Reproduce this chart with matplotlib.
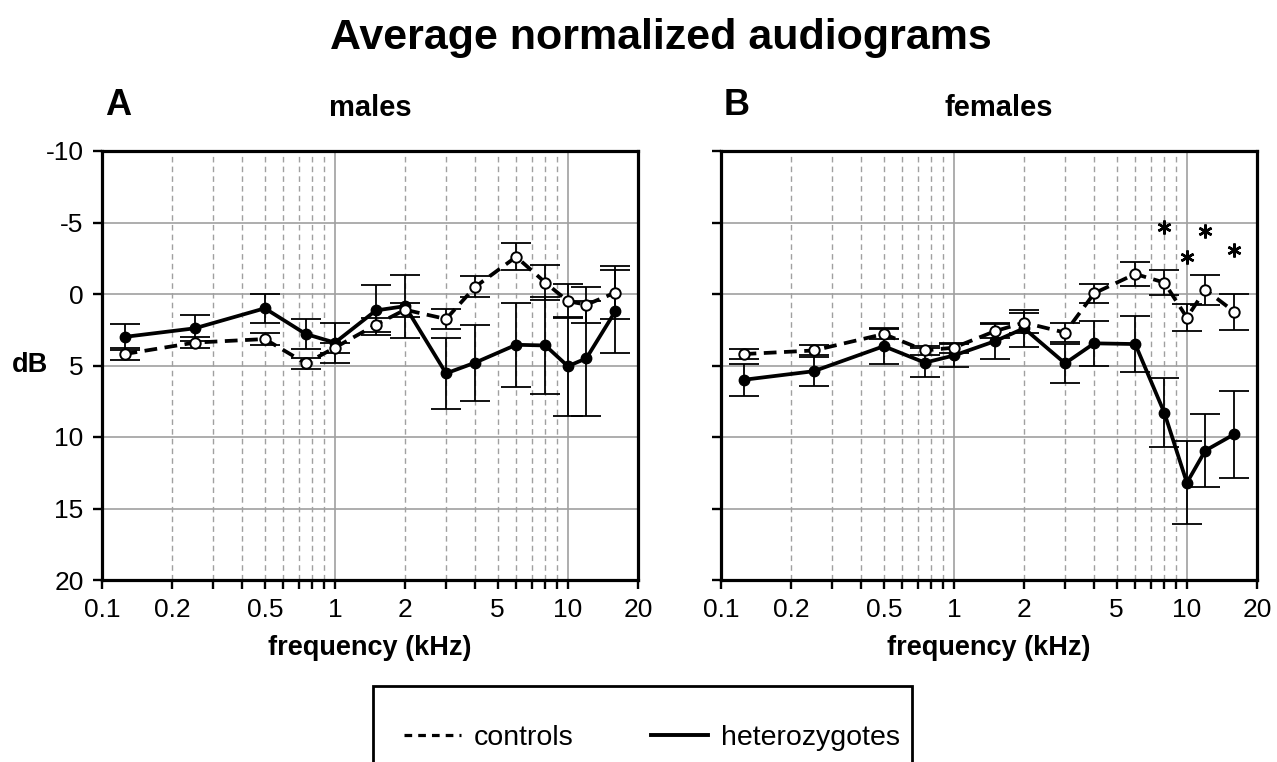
import numpy as np
import matplotlib.pyplot as plt
from matplotlib.ticker import FixedLocator, FixedFormatter, NullFormatter
from matplotlib.lines import Line2D
from matplotlib.patches import Rectangle

plt.rcParams['font.family'] = ['Liberation Sans', 'DejaVu Sans']
plt.rcParams['axes.unicode_minus'] = False

# frequencies (kHz)
freqs = [0.125, 0.25, 0.5, 0.75, 1, 1.5, 2, 3, 4, 6, 8, 10, 12, 16]

# males
male_het = [3.0, 2.4, 1.0, 2.8, 3.4, 1.15, 0.85, 5.55, 4.8, 3.55, 3.6, 5.05, 4.5, 1.2]
male_het_err = [0.9, 0.9, 1.0, 1.05, 1.4, 1.75, 2.2, 2.5, 2.65, 2.95, 3.4, 3.45, 4.0, 2.9]
male_ctl = [4.2, 3.4, 3.15, 4.85, 3.75, 2.15, 1.1, 1.75, -0.5, -2.6, -0.8, 0.5, 0.75, -0.1]
male_ctl_err = [0.4, 0.38, 0.42, 0.38, 0.35, 0.5, 0.5, 0.72, 0.73, 0.94, 1.2, 1.2, 1.25, 1.85]

# females
female_het = [6.0, 5.4, 3.65, 4.8, 4.3, 3.3, 2.4, 4.85, 3.45, 3.5, 8.3, 13.2, 10.95, 9.8]
female_het_err = [1.1, 1.0, 1.27, 1.0, 0.8, 1.25, 1.3, 1.35, 1.57, 1.95, 2.4, 2.9, 2.57, 3.05]
female_ctl = [4.2, 3.95, 2.8, 3.95, 3.75, 2.6, 2.0, 2.7, -0.05, -1.4, -0.8, 1.65, -0.3, 1.25]
female_ctl_err = [0.33, 0.35, 0.32, 0.3, 0.35, 0.47, 0.7, 0.68, 0.67, 0.84, 0.85, 0.95, 1.05, 1.27]

# significance stars (females)
sig_freqs = [8, 10, 12, 16]
sig_levels = [-4.7, -2.6, -4.4, -3.1]

major_ticks = [0.1, 0.2, 0.5, 1, 2, 5, 10, 20]
major_labels = ['0.1', '0.2', '0.5', '1', '2', '5', '10', '20']
minor_ticks = [0.3, 0.4, 0.6, 0.7, 0.8, 0.9, 3, 4, 6, 7, 8, 9]
dashed_grid = [0.2, 0.3, 0.4, 0.5, 0.6, 0.7, 0.8, 0.9, 2, 3, 4, 5, 6, 7, 8, 9]
solid_grid = [1, 10]
y_ticks = [-10, -5, 0, 5, 10, 15, 20]

W, H = 1277, 762
fig = plt.figure(figsize=(W / 100, H / 100), dpi=100)

fig.text(661 / W, 1 - 38 / H, 'Average normalized audiograms', ha='center', va='center',
         fontsize=31, fontweight='bold')

panels = [
    ('A', 'males', 102, 0.5, male_het, male_het_err, male_ctl, male_ctl_err, True),
    ('B', 'females', 721, 0.519, female_het, female_het_err, female_ctl, female_ctl_err, False),
]

grid_col = '#a0a0a0'
for letter, name, left_px, name_x, het, het_err, ctl, ctl_err, first in panels:
    ax = fig.add_axes([left_px / W, 1 - 580 / H, 536 / W, 429 / H])
    ax.set_xscale('log')
    ax.set_xlim(0.1, 20)
    ax.set_ylim(20, -10)

    # grid
    for f in dashed_grid:
        ax.axvline(f, color=grid_col, lw=1.0, ls=(0, (4, 3)), zorder=0)
    for f in solid_grid:
        ax.axvline(f, color=grid_col, lw=1.2, zorder=0)
    for v in y_ticks[1:-1]:
        ax.axhline(v, color=grid_col, lw=1.2, zorder=0)

    # ticks
    ax.xaxis.set_major_locator(FixedLocator(major_ticks))
    ax.xaxis.set_major_formatter(FixedFormatter(major_labels))
    ax.xaxis.set_minor_locator(FixedLocator(minor_ticks))
    ax.xaxis.set_minor_formatter(NullFormatter())
    ax.set_yticks(y_ticks)
    ax.tick_params(axis='both', which='both', direction='out', length=6.8, width=1.7,
                   labelsize=19, pad=6.5, color='black')
    if not first:
        ax.tick_params(axis='y', labelleft=False)
    for sp in ax.spines.values():
        sp.set_linewidth(2.3)
        sp.set_color('black')

    # error bars
    ax.errorbar(freqs, het, yerr=het_err, fmt='none', ecolor='black', elinewidth=1.3,
                capsize=10.5, capthick=1.3, zorder=2)
    ax.errorbar(freqs, ctl, yerr=ctl_err, fmt='none', ecolor='black', elinewidth=1.3,
                capsize=10.5, capthick=1.3, zorder=2)

    # lines
    ax.plot(freqs, het, color='black', lw=2.7, marker='o', markersize=7.5,
            markerfacecolor='black', markeredgecolor='black', zorder=3)
    ax.plot(freqs, ctl, color='black', lw=2.7, ls=(0, (3.4, 2.0)), marker='o', markersize=7.5,
            markerfacecolor='white', markeredgecolor='black', markeredgewidth=1.4, zorder=4)

    if not first:
        ax.plot(sig_freqs, sig_levels, ls='none', marker=(6, 2, 0), markersize=10,
                markeredgewidth=1.8, color='black', zorder=5)

    ax.text(0.03, 1.107, letter, transform=ax.transAxes, ha='center', va='center',
            fontsize=26, fontweight='bold')
    ax.text(name_x, 1.1, name, transform=ax.transAxes, ha='center', va='center',
            fontsize=21, fontweight='bold')
    ax.text(0.5, -68 / 429, 'frequency (kHz)', transform=ax.transAxes, ha='center',
            va='center', fontsize=19.5, fontweight='bold')
    if first:
        ax.text(-0.134, 5, 'dB', transform=ax.get_yaxis_transform(), ha='center',
                va='center', fontsize=19.5, fontweight='bold')

# legend
handles = [Line2D([], [], color='black', lw=2.3, ls=(0, (2.4, 1.9))),
           Line2D([], [], color='black', lw=2.8)]
fig.legend(handles, ['controls', 'heterozygotes'], loc='center',
           bbox_to_anchor=(652 / W, 1 - 738 / H), ncol=2, frameon=False, fontsize=20.5,
           handlelength=2.0, columnspacing=2.7, handletextpad=0.45)
fig.patches.append(Rectangle((373 / W, -0.05), (912 - 373) / W, 1 - 686 / H + 0.05,
                             transform=fig.transFigure, fill=False, lw=2, ec='black'))

fig.savefig('out.png', dpi=100)
